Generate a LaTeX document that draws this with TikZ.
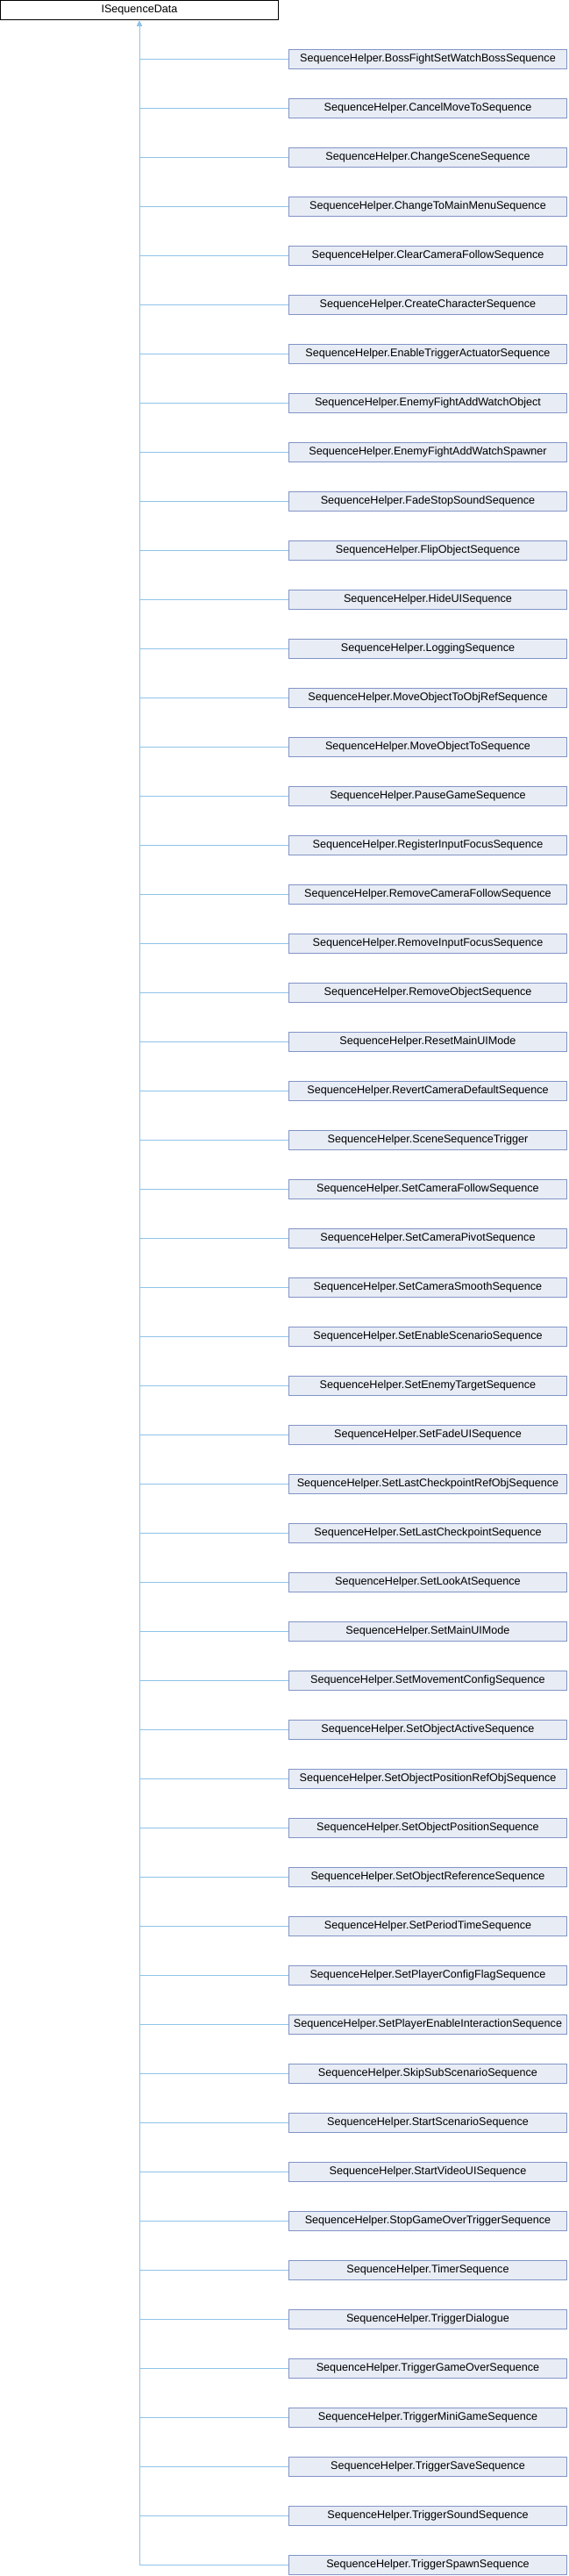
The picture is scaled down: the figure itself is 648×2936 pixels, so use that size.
\documentclass[tikz,border=0pt]{standalone}
\usepackage{fontspec}
\setmainfont{Liberation Sans}
\usetikzlibrary{arrows.meta}
\definecolor{edgec}{HTML}{8FC3E8}
\definecolor{boxfill}{HTML}{E8ECF5}
\definecolor{boxdraw}{HTML}{8294C6}
\begin{document}
\begin{tikzpicture}[x=1pt,y=1pt,
  rootbox/.style={draw=black,fill=white,line width=1pt,minimum width=317pt,minimum height=22pt,inner sep=0pt,font=\fontsize{12.6}{14}\selectfont,anchor=center},
  childbox/.style={draw=boxdraw,fill=boxfill,line width=1pt,minimum width=317pt,minimum height=22pt,inner sep=0pt,font=\fontsize{12.6}{14}\selectfont,anchor=center},
  edge/.style={draw=edgec,line width=1pt,{Triangle[length=5pt,width=5pt,fill=edgec]}-,shorten <=1.5pt}]
\useasboundingbox (0,0) rectangle (648,-2936);
\node[rootbox] (root) at (159,-11.5) {ISequenceData};
\foreach [count=\i from 0] \n in {
BossFightSetWatchBossSequence,
CancelMoveToSequence,
ChangeSceneSequence,
ChangeToMainMenuSequence,
ClearCameraFollowSequence,
CreateCharacterSequence,
EnableTriggerActuatorSequence,
EnemyFightAddWatchObject,
EnemyFightAddWatchSpawner,
FadeStopSoundSequence,
FlipObjectSequence,
HideUISequence,
LoggingSequence,
MoveObjectToObjRefSequence,
MoveObjectToSequence,
PauseGameSequence,
RegisterInputFocusSequence,
RemoveCameraFollowSequence,
RemoveInputFocusSequence,
RemoveObjectSequence,
ResetMainUIMode,
RevertCameraDefaultSequence,
SceneSequenceTrigger,
SetCameraFollowSequence,
SetCameraPivotSequence,
SetCameraSmoothSequence,
SetEnableScenarioSequence,
SetEnemyTargetSequence,
SetFadeUISequence,
SetLastCheckpointRefObjSequence,
SetLastCheckpointSequence,
SetLookAtSequence,
SetMainUIMode,
SetMovementConfigSequence,
SetObjectActiveSequence,
SetObjectPositionRefObjSequence,
SetObjectPositionSequence,
SetObjectReferenceSequence,
SetPeriodTimeSequence,
SetPlayerConfigFlagSequence,
SetPlayerEnableInteractionSequence,
SkipSubScenarioSequence,
StartScenarioSequence,
StartVideoUISequence,
StopGameOverTriggerSequence,
TimerSequence,
TriggerDialogue,
TriggerGameOverSequence,
TriggerMiniGameSequence,
TriggerSaveSequence,
TriggerSoundSequence,
TriggerSpawnSequence} {
  \node[childbox] (c\i) at (488,{-67.5-56*\i}) {SequenceHelper.\n};
  \draw[edge] (root.south) |- (c\i.west);
}
\end{tikzpicture}
\end{document}
